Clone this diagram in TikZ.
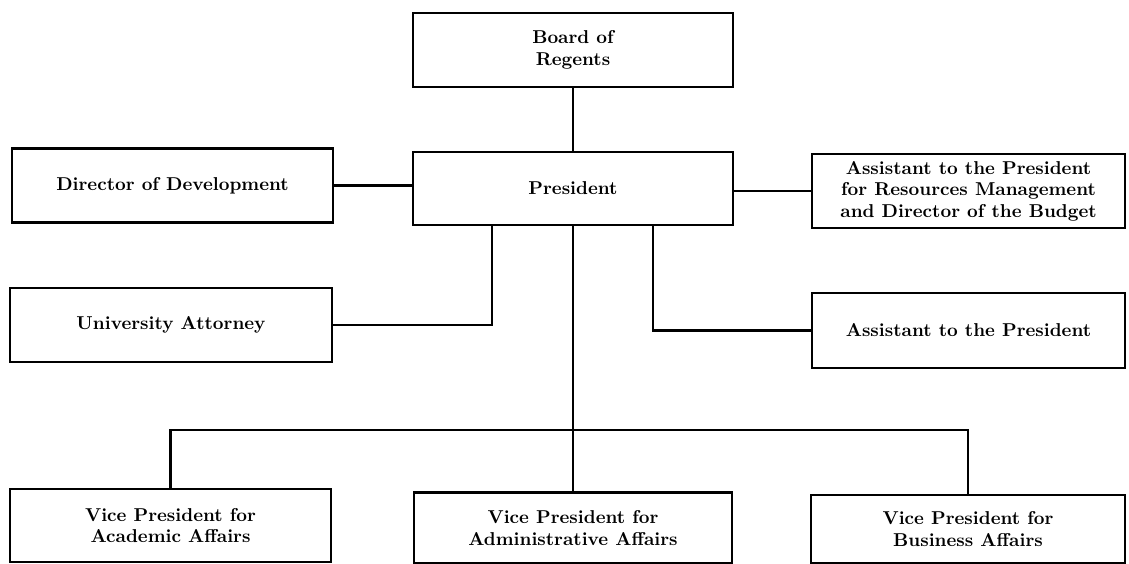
\documentclass[tikz,border=0pt]{standalone}
\usepackage{tikz}
\usetikzlibrary{positioning,calc}
\tikzset{
  office/.style={draw=black, fill=white, line width=1.6pt, align=center,
    inner sep=2pt, font=\bfseries\fontsize{10.6}{12.2}\selectfont, text=black,
    minimum width=6.4cm, minimum height=1.48cm},
  vpoffice/.style={office, minimum height=1.42cm},
  link/.style={line width=1.6pt, color=black},
}
\begin{document}
\begin{tikzpicture}[x=0.02cm,y=-0.02cm]
  \useasboundingbox (0,0) rectangle (1129,564);
  % top of the chart
  \node[office] (regents) at (573,50) {Board of\\Regents};
  \node[office, minimum height=1.46cm] (pres) at (573,188.5) {President};
  % staff offices
  \node[office, minimum width=6.42cm] (devdir) at (172.5,185.5) {Director of Development};
  \node[office, minimum width=6.26cm] (budget) at (968.5,191)
      {Assistant to the President\\for Resources Management\\and Director of the Budget};
  \node[office, minimum width=6.44cm] (attorney) at (171,325) {University Attorney};
  \node[office, minimum width=6.26cm, minimum height=1.5cm] (asst) at (968.5,330.5) {Assistant to the President};
  % vice presidents
  \node[vpoffice, minimum width=6.42cm, minimum height=1.46cm] (vpacad) at (170.5,525.5) {Vice President for\\Academic Affairs};
  \node[vpoffice, minimum width=6.36cm] (vpadmin) at (573,528) {Vice President for\\Administrative Affairs};
  \node[vpoffice, minimum width=6.28cm, minimum height=1.36cm] (vpbus) at (968,529) {Vice President for\\Business Affairs};
  \coordinate (bar) at (573,430);
  % connectors
  \draw[link] (regents) -- (pres);
  \draw[link] (devdir.east) -- (devdir.east -| pres.west);
  \draw[link] (pres.east |- budget.west) -- (budget.west);
  \draw[link] ($(pres.south)+(-81,0)$) |- (attorney.east);
  \draw[link] ($(pres.south)+(80,0)$) |- (asst.west);
  \draw[link] (pres.south) -- (vpadmin.north);
  \draw[link] (vpacad.north) |- (bar) -| (vpbus.north);
\end{tikzpicture}
\end{document}
